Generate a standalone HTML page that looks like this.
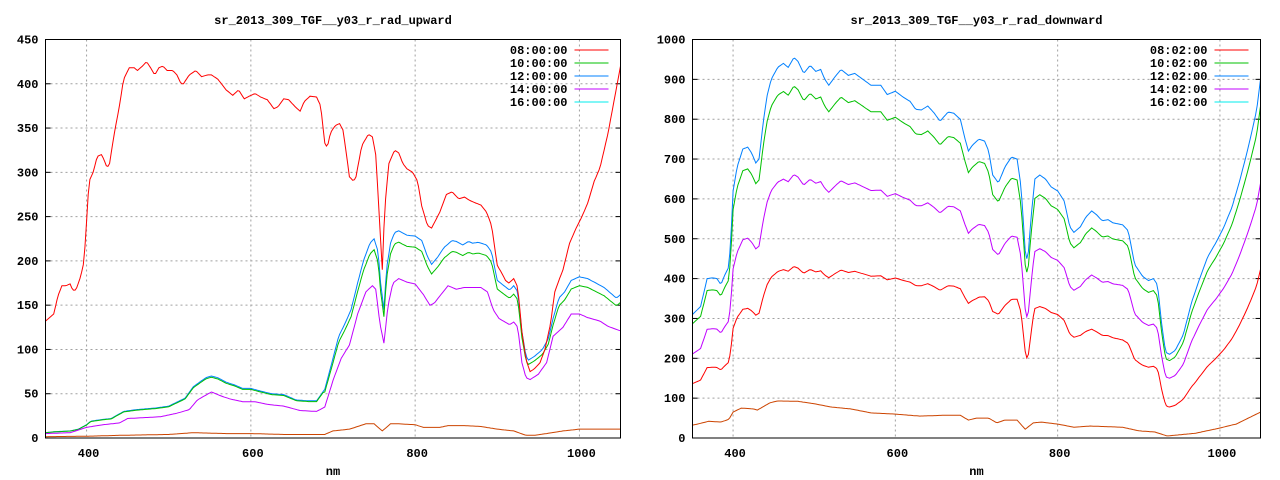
<!DOCTYPE html>
<html><head><meta charset="utf-8"><style>
body{margin:0;background:#fff}
svg{display:block}
text{font-family:"Liberation Mono",monospace;font-size:12px;font-weight:bold;fill:#000}
</style></head><body>
<svg id="s" width="1280" height="480" xmlns="http://www.w3.org/2000/svg"></svg>
<script>
var NS="http://www.w3.org/2000/svg",S=document.getElementById('s');
function el(t,a,txt){var e=document.createElementNS(NS,t);for(var k in a)e.setAttribute(k,a[k]);if(txt!==undefined)e.textContent=txt;S.appendChild(e);return e;}
function P(str){return str.trim().split(/\s+/).map(function(p){var q=p.split(':');return [+q[0],+q[1]];});}
function interp(arr,x){for(var i=1;i<arr.length;i++){if(x<=arr[i][0]){var a=arr[i-1],b=arr[i];return a[1]+(b[1]-a[1])*(x-a[0])/(b[0]-a[0]);}}return arr[arr.length-1][1];}
function plot(o){
 var X=function(n){return o.x0+(n-350)*(o.x1-o.x0)/700},Y=function(v){return 438-v*(438-39.5)/o.ymax};
 el('text',{x:(o.x0+o.x1)/2,y:24,'text-anchor':'middle','font-size':'11'},o.title);
 for(var n=400;n<=1000;n+=200)el('line',{x1:X(n),x2:X(n),y1:39.5,y2:438,stroke:'#a0a0a0','stroke-dasharray':'2,3'});
 for(var v=o.step;v<o.ymax;v+=o.step)el('line',{x1:o.x0,x2:o.x1,y1:Y(v),y2:Y(v),stroke:'#a0a0a0','stroke-dasharray':'2,3'});
 for(var v=0;v<=o.ymax;v+=o.step){el('text',{x:o.x0-7,y:Y(v)+4,'text-anchor':'end'},v);el('line',{x1:o.x0,x2:o.x0+5,y1:Y(v),y2:Y(v),stroke:'#000'});el('line',{x1:o.x1,x2:o.x1-5,y1:Y(v),y2:Y(v),stroke:'#000'});}
 for(var n=400;n<=1000;n+=200){el('text',{x:X(n)+2,y:457,'text-anchor':'middle'},n);}
 el('text',{x:(o.x0+o.x1)/2,y:475,'text-anchor':'middle'},'nm');
 o.series.forEach(function(s){
  var pts=[];for(var n=350;n<=1050;n+=2){pts.push(X(n).toFixed(1)+','+Y(s.f(n)).toFixed(1));}
  el('polyline',{points:pts.join(' '),fill:'none',stroke:s.c,'stroke-width':'1'});
 });
 var cols=['#ff0000','#00c000','#0080ff','#c000ff','#00eeee'];
 o.labels.forEach(function(l,i){var y=50+i*13;el('text',{x:o.x1-53,y:y+4,'text-anchor':'end'},l);el('line',{x1:o.x1-46,x2:o.x1-12,y1:y,y2:y,stroke:cols[i]});});
 el('rect',{x:o.x0,y:39.5,width:o.x1-o.x0,height:438-39.5,fill:'none',stroke:'#000'});
}
var LR=P("350:132 355:136 360:140 365:160 370:172 375:172 380:174 383:167 387:167 393:183 397:200 400:245 403:290 408:300 413:318 418:320 421:315 425:305 428:310 433:340 440:375 445:405 452:418 458:418 462:415 468:420 473:425 478:418 483:410 488:418 493:420 498:415 505:415 510:410 515:400 518:400 525:410 533:415 540:408 547:410 552:410 560:405 570:393 578:387 585:393 592:383 598:386 605:389 612:385 620:382 628:372 633:374 640:383 646:382 655:373 660:369 665:380 672:386 680:385 685:375 690:333 693:328 697:345 703:353 708:355 712:348 715:330 720:295 725:290 728:295 735:330 743:343 748:340 752:320 757:240 760:190 763:260 768:310 775:325 780:322 785:310 790:304 797:300 803:290 808:262 815:240 820:237 830:255 838:275 845:278 853:270 860:272 867:268 880:263 887:255 893:240 900:195 905:187 910:178 914:175 920:180 925:170 930:120 935:88 940:75 945:78 952:85 958:100 965:130 970:165 975:178 980:190 988:220 995:235 1003:250 1010:265 1018:290 1025:305 1035:345 1043:385 1050:420");
var LB=P("350:6 360:7 380:8 390:10 400:15 405:19 420:21 430:22 445:30 460:32 485:34 500:36 520:45 530:58 545:68 552:70 560:68 570:63 580:60 590:56 600:56 612:53 625:50 640:49 655:43 670:42 680:42 690:55 700:90 707:115 715:130 722:145 730:175 737:200 745:220 750:225 755:210 758:175 762:145 765:190 770:220 775:232 780:234 790:229 800:228 808:223 815:205 820:196 828:205 835:215 845:223 850:222 858:218 865:222 870:220 877:221 887:218 893:210 900:178 908:172 915:167 920:172 925:165 930:120 935:92 938:88 945:92 955:100 962:112 968:135 975:158 982:165 990:178 1000:182 1010:180 1020:175 1030:170 1040:162 1045:158 1050:162");
var LP=P("350:5 380:6 400:12 420:15 440:17 450:22 470:23 490:24 510:28 525:32 535:43 552:52 565:47 575:44 590:41 605:41 620:38 640:36 660:31 680:30 690:35 700:65 710:90 720:105 730:140 740:165 748:172 752:168 757:130 762:107 767:150 773:175 780:180 790:176 800:174 810:162 818:150 823:152 840:172 850:168 860:170 880:170 888:165 895:145 902:135 915:128 920:131 925:125 930:85 935:68 940:66 950:72 960:85 968:115 980:125 990:140 1000:140 1010:136 1025:132 1035:126 1050:121");
var LO=P("350:1.5 400:2 440:3 500:4 530:6 570:5 600:5 640:4 690:4 700:8 720:10 740:16 750:16 760:8 770:16 780:16 800:15 810:12 830:12 840:14 860:14 880:13 900:10 920:8 935:3 945:3 960:5 980:8 1000:10 1050:10");
function lf(a){return function(n){return interp(a,n)}}
plot({x0:45.5,x1:620.5,ymax:450,step:50,title:'sr_2013_309_TGF__y03_r_rad_upward',
 labels:['08:00:00','10:00:00','12:00:00','14:00:00','16:00:00'],
 series:[{c:'#cc4400',f:lf(LO)},{c:'#0080ff',f:lf(LB)},{c:'#00c000',f:function(n){var b=interp(LB,n);return n<690?b*0.98:b*0.945}},{c:'#c000ff',f:lf(LP)},{c:'#ff0000',f:lf(LR)}]});
var RB=P("350:310 355:320 360:330 368:400 375:402 380:400 385:385 390:410 395:430 398:530 400:620 405:680 412:725 418:730 423:715 428:690 432:700 437:790 442:860 447:900 455:930 462:940 468:930 475:955 480:945 487:915 495:935 502:920 508:925 513:900 518:885 525:905 533:925 542:910 550:915 560:900 570:885 582:885 590:862 600:870 610:855 618:845 625:825 632:823 640:833 648:815 655:795 665:818 672:815 680:800 686:750 690:720 695:735 703:750 710:745 715:720 720:660 727:640 735:680 743:705 750:700 755:630 760:470 763:440 767:550 772:650 778:660 785:650 792:630 800:620 808:595 815:530 820:516 828:530 835:555 842:570 848:560 855:545 862:548 868:540 880:535 887:520 895:435 905:405 912:395 918:400 923:385 928:290 933:215 938:210 945:220 955:260 965:340 975:400 985:455 995:490 1005:530 1015:580 1025:650 1035:730 1045:820 1050:900");
var RO=P("350:32 370:42 385:40 395:47 400:65 410:75 425:73 430:70 445:88 455:93 480:92 500:86 520:78 545:73 570:63 600:60 630:55 660:57 680:57 690:45 700:50 715:50 725:38 735:45 750:45 760:22 770:38 780:40 800:35 820:27 840:30 880:27 900:18 920:15 935:5 950:8 970:12 1000:25 1020:35 1050:65");
var RF=P("350:0.44 700:0.47 755:0.5 763:0.44 770:0.5 800:0.5 900:0.45 925:0.45 935:0.37 970:0.38 1050:0.47");
var PF=P("350:0.68 755:0.72 763:0.67 770:0.72 1050:0.71");
plot({x0:692.5,x1:1260.5,ymax:1000,step:100,title:'sr_2013_309_TGF__y03_r_rad_downward',
 labels:['08:02:00','10:02:00','12:02:00','14:02:00','16:02:00'],
 series:[{c:'#cc4400',f:lf(RO)},{c:'#0080ff',f:lf(RB)},{c:'#00c000',f:function(n){return interp(RB,n)*0.925}},{c:'#c000ff',f:function(n){return interp(RB,n)*interp(PF,n)}},{c:'#ff0000',f:function(n){return interp(RB,n)*interp(RF,n)}}]});
</script>
</body></html>
